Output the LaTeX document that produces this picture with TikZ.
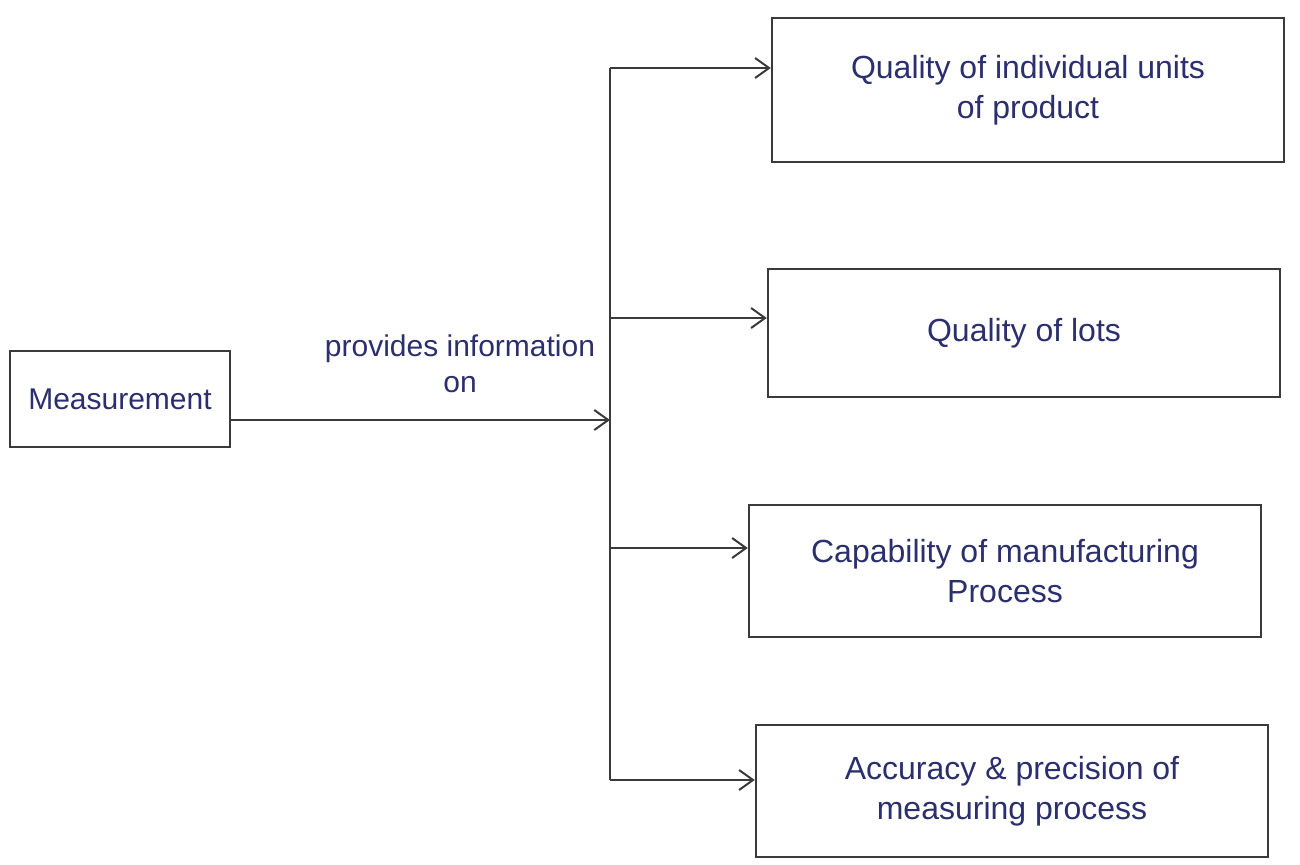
\documentclass[tikz,border=0pt]{standalone}
\usepackage{fontspec}
\setmainfont{Liberation Sans}
\usetikzlibrary{arrows.meta}
\definecolor{ink}{HTML}{2B2F6E}
\definecolor{pen}{HTML}{3A3A3A}
\begin{document}
\begin{tikzpicture}[x=0.5pt,y=-0.5pt,
  box/.style={draw=pen,line width=1.2pt,minimum height=64pt,text=ink,align=center,font=\fontsize{16}{20}\selectfont,inner sep=4pt},
  conn/.style={draw=pen,line width=1pt},
  arr/.style={conn,-{Straight Barb[length=7pt,width=10pt]}}]
\useasboundingbox (0,0) rectangle (1300,864);
\fill[white] (0,0) rectangle (1300,864);
% boxes
\node[box,minimum width=256pt,minimum height=72pt] (b1) at (1028,90) {Quality of individual units\\of product};
\node[box,minimum width=256pt,minimum height=64pt] (b2) at (1024,333) {Quality of lots};
\node[box,minimum width=256pt,minimum height=66pt] (b3) at (1005,571) {Capability of manufacturing\\Process};
\node[box,minimum width=256pt,minimum height=66pt] (b4) at (1012,791) {Accuracy \& precision of\\measuring process};
\node[box,minimum width=110pt,minimum height=48pt,font=\fontsize{15}{18}\selectfont] (m) at (120,399) {Measurement};
% spine
\coordinate (s1) at (610,68);
\coordinate (s2) at (610,318);
\coordinate (s3) at (610,548);
\coordinate (s4) at (610,780);
\coordinate (sm) at (610,420);
\draw[conn] (s1) -- (s4);
\draw[arr] (m.east |- sm) -- (sm);
\draw[arr] (s1) -- (s1 -| b1.west);
\draw[arr] (s2) -- (s2 -| b2.west);
\draw[arr] (s3) -- (s3 -| b3.west);
\draw[arr] (s4) -- (s4 -| b4.west);
\node[text=ink,align=center,font=\fontsize{15}{18}\selectfont] (lab) at (460,364) {provides information\\on};
\end{tikzpicture}
\end{document}
